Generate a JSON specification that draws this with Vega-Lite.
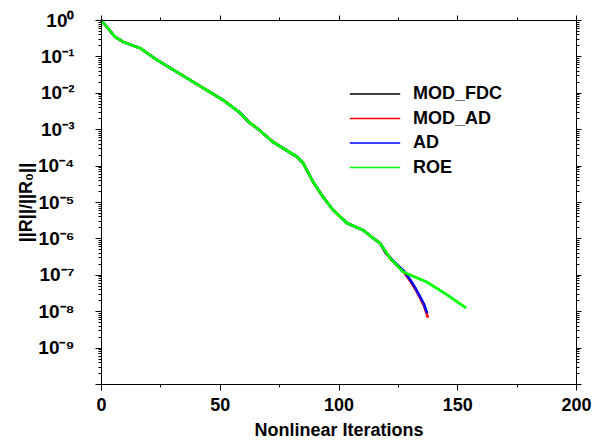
{
  "$schema": "https://vega.github.io/schema/vega-lite/v6.json",
  "autosize": {"type": "none"},
  "padding": {"left": 101, "top": 20, "right": 18, "bottom": 61},
  "width": 475,
  "height": 364,
  "background": "white",
  "config": {
    "font": "Liberation Sans",
    "view": {"stroke": null},
    "axis": {"domainColor": "black", "tickColor": "black", "grid": false, "domainWidth": 1, "tickWidth": 1,
      "labelFont": "Liberation Sans", "labelFontWeight": "bold", "labelFontSize": 18, "labelColor": "black",
      "titleFont": "Liberation Sans", "titleFontWeight": "bold", "titleFontSize": 18, "titleColor": "black"}
  },
  "data": {"values": [
    {"s": "MOD_FDC", "it": 0, "res": 1},
    {"s": "MOD_FDC", "it": 5.9, "res": 0.347},
    {"s": "MOD_FDC", "it": 9.3, "res": 0.251},
    {"s": "MOD_FDC", "it": 16.4, "res": 0.17},
    {"s": "MOD_FDC", "it": 23.6, "res": 0.0794},
    {"s": "MOD_FDC", "it": 37.5, "res": 0.0224},
    {"s": "MOD_FDC", "it": 51.4, "res": 0.00631},
    {"s": "MOD_FDC", "it": 58.5, "res": 0.00282},
    {"s": "MOD_FDC", "it": 62.7, "res": 0.00148},
    {"s": "MOD_FDC", "it": 65.7, "res": 0.00107},
    {"s": "MOD_FDC", "it": 72.4, "res": 0.000447},
    {"s": "MOD_FDC", "it": 76.6, "res": 0.000302},
    {"s": "MOD_FDC", "it": 82.5, "res": 0.000174},
    {"s": "MOD_FDC", "it": 85.1, "res": 0.000117},
    {"s": "MOD_FDC", "it": 89.3, "res": 3.55e-5},
    {"s": "MOD_FDC", "it": 93.5, "res": 1.38e-5},
    {"s": "MOD_FDC", "it": 97.7, "res": 6.03e-6},
    {"s": "MOD_FDC", "it": 103.6, "res": 2.63e-6},
    {"s": "MOD_FDC", "it": 110.3, "res": 1.7e-6},
    {"s": "MOD_FDC", "it": 114.5, "res": 1.02e-6},
    {"s": "MOD_FDC", "it": 117.5, "res": 7.41e-7},
    {"s": "MOD_FDC", "it": 120, "res": 3.98e-7},
    {"s": "MOD_FDC", "it": 122.5, "res": 2.57e-7},
    {"s": "MOD_FDC", "it": 124.6, "res": 1.86e-7},
    {"s": "MOD_FDC", "it": 127.5, "res": 1.26e-7},
    {"s": "MOD_FDC", "it": 130.1, "res": 7.24e-8},
    {"s": "MOD_FDC", "it": 132.2, "res": 4.37e-8},
    {"s": "MOD_FDC", "it": 134.3, "res": 2.45e-8},
    {"s": "MOD_FDC", "it": 136, "res": 1.48e-8},
    {"s": "MOD_FDC", "it": 137.3, "res": 8.9e-9},

    {"s": "MOD_AD", "it": 0, "res": 1},
    {"s": "MOD_AD", "it": 5.9, "res": 0.347},
    {"s": "MOD_AD", "it": 9.3, "res": 0.251},
    {"s": "MOD_AD", "it": 16.4, "res": 0.17},
    {"s": "MOD_AD", "it": 23.6, "res": 0.0794},
    {"s": "MOD_AD", "it": 37.5, "res": 0.0224},
    {"s": "MOD_AD", "it": 51.4, "res": 0.00631},
    {"s": "MOD_AD", "it": 58.5, "res": 0.00282},
    {"s": "MOD_AD", "it": 62.7, "res": 0.00148},
    {"s": "MOD_AD", "it": 65.7, "res": 0.00107},
    {"s": "MOD_AD", "it": 72.4, "res": 0.000447},
    {"s": "MOD_AD", "it": 76.6, "res": 0.000302},
    {"s": "MOD_AD", "it": 82.5, "res": 0.000174},
    {"s": "MOD_AD", "it": 85.1, "res": 0.000117},
    {"s": "MOD_AD", "it": 89.3, "res": 3.55e-5},
    {"s": "MOD_AD", "it": 93.5, "res": 1.38e-5},
    {"s": "MOD_AD", "it": 97.7, "res": 6.03e-6},
    {"s": "MOD_AD", "it": 103.6, "res": 2.63e-6},
    {"s": "MOD_AD", "it": 110.3, "res": 1.7e-6},
    {"s": "MOD_AD", "it": 114.5, "res": 1.02e-6},
    {"s": "MOD_AD", "it": 117.5, "res": 7.41e-7},
    {"s": "MOD_AD", "it": 120, "res": 3.9e-7},
    {"s": "MOD_AD", "it": 122.5, "res": 2.5e-7},
    {"s": "MOD_AD", "it": 124.6, "res": 1.8e-7},
    {"s": "MOD_AD", "it": 127.5, "res": 1.2e-7},
    {"s": "MOD_AD", "it": 130.1, "res": 6.9e-8},
    {"s": "MOD_AD", "it": 132.2, "res": 4.2e-8},
    {"s": "MOD_AD", "it": 134.3, "res": 2.35e-8},
    {"s": "MOD_AD", "it": 136, "res": 1.4e-8},
    {"s": "MOD_AD", "it": 137.7, "res": 6.6e-9},

    {"s": "AD", "it": 0, "res": 1},
    {"s": "AD", "it": 5.9, "res": 0.347},
    {"s": "AD", "it": 9.3, "res": 0.251},
    {"s": "AD", "it": 16.4, "res": 0.17},
    {"s": "AD", "it": 23.6, "res": 0.0794},
    {"s": "AD", "it": 37.5, "res": 0.0224},
    {"s": "AD", "it": 51.4, "res": 0.00631},
    {"s": "AD", "it": 58.5, "res": 0.00282},
    {"s": "AD", "it": 62.7, "res": 0.00148},
    {"s": "AD", "it": 65.7, "res": 0.00107},
    {"s": "AD", "it": 72.4, "res": 0.000447},
    {"s": "AD", "it": 76.6, "res": 0.000302},
    {"s": "AD", "it": 82.5, "res": 0.000174},
    {"s": "AD", "it": 85.1, "res": 0.000117},
    {"s": "AD", "it": 89.3, "res": 3.55e-5},
    {"s": "AD", "it": 93.5, "res": 1.38e-5},
    {"s": "AD", "it": 97.7, "res": 6.03e-6},
    {"s": "AD", "it": 103.6, "res": 2.63e-6},
    {"s": "AD", "it": 110.3, "res": 1.7e-6},
    {"s": "AD", "it": 114.5, "res": 1.02e-6},
    {"s": "AD", "it": 117.5, "res": 7.41e-7},
    {"s": "AD", "it": 120, "res": 4.0e-7},
    {"s": "AD", "it": 122.5, "res": 2.6e-7},
    {"s": "AD", "it": 124.6, "res": 1.9e-7},
    {"s": "AD", "it": 127.5, "res": 1.28e-7},
    {"s": "AD", "it": 130.1, "res": 7.4e-8},
    {"s": "AD", "it": 132.2, "res": 4.5e-8},
    {"s": "AD", "it": 134.3, "res": 2.55e-8},
    {"s": "AD", "it": 136, "res": 1.55e-8},
    {"s": "AD", "it": 137.3, "res": 8.9e-9},

    {"s": "ROE", "it": 0, "res": 1},
    {"s": "ROE", "it": 5.9, "res": 0.347},
    {"s": "ROE", "it": 9.3, "res": 0.251},
    {"s": "ROE", "it": 16.4, "res": 0.17},
    {"s": "ROE", "it": 23.6, "res": 0.0794},
    {"s": "ROE", "it": 37.5, "res": 0.0224},
    {"s": "ROE", "it": 51.4, "res": 0.00631},
    {"s": "ROE", "it": 58.5, "res": 0.00282},
    {"s": "ROE", "it": 62.7, "res": 0.00148},
    {"s": "ROE", "it": 65.7, "res": 0.00107},
    {"s": "ROE", "it": 72.4, "res": 0.000447},
    {"s": "ROE", "it": 76.6, "res": 0.000302},
    {"s": "ROE", "it": 82.5, "res": 0.000174},
    {"s": "ROE", "it": 85.1, "res": 0.000117},
    {"s": "ROE", "it": 89.3, "res": 3.55e-5},
    {"s": "ROE", "it": 93.5, "res": 1.38e-5},
    {"s": "ROE", "it": 97.7, "res": 6.03e-6},
    {"s": "ROE", "it": 103.6, "res": 2.63e-6},
    {"s": "ROE", "it": 110.3, "res": 1.7e-6},
    {"s": "ROE", "it": 114.5, "res": 1.02e-6},
    {"s": "ROE", "it": 117.5, "res": 7.41e-7},
    {"s": "ROE", "it": 121.7, "res": 2.88e-7},
    {"s": "ROE", "it": 127.2, "res": 1.2e-7},
    {"s": "ROE", "it": 137.3, "res": 6.31e-8},
    {"s": "ROE", "it": 145.7, "res": 2.82e-8},
    {"s": "ROE", "it": 153.7, "res": 1.23e-8}
  ]},
  "resolve": {"axis": {"x": "independent", "y": "independent"}},
  "layer": [
    {
      "mark": {"type": "line", "strokeWidth": 2.5},
      "encoding": {
        "x": {"field": "it", "type": "quantitative", "scale": {"domain": [0, 200], "nice": false},
          "axis": {"orient": "bottom", "title": "Nonlinear Iterations",
            "values": [0, 25, 50, 75, 100, 125, 150, 175, 200],
            "labelExpr": "datum.value % 50 == 0 ? datum.label : ''",
            "tickSize": {"condition": {"test": "datum.value % 50 == 0", "value": 6}, "value": 3}, "zindex": 1,
            "labelPadding": 6, "labelFlush": false, "labelOverlap": false,
            "titleBaseline": "alphabetic", "titleY": 51}},
        "y": {"field": "res", "type": "quantitative", "scale": {"type": "log", "domain": [1e-10, 1], "nice": false},
          "axis": {"orient": "left", "title": "||R||/||R₀||",
            "values": [1,
              0.9,0.8,0.7,0.6,0.5,0.4,0.3,0.2,0.1,
              0.09,0.08,0.07,0.06,0.05,0.04,0.03,0.02,0.01,
              0.009,0.008,0.007,0.006,0.005,0.004,0.003,0.002,0.001,
              9e-4,8e-4,7e-4,6e-4,5e-4,4e-4,3e-4,2e-4,1e-4,
              9e-5,8e-5,7e-5,6e-5,5e-5,4e-5,3e-5,2e-5,1e-5,
              9e-6,8e-6,7e-6,6e-6,5e-6,4e-6,3e-6,2e-6,1e-6,
              9e-7,8e-7,7e-7,6e-7,5e-7,4e-7,3e-7,2e-7,1e-7,
              9e-8,8e-8,7e-8,6e-8,5e-8,4e-8,3e-8,2e-8,1e-8,
              9e-9,8e-9,7e-9,6e-9,5e-9,4e-9,3e-9,2e-9,1e-9,
              9e-10,8e-10,7e-10,6e-10,5e-10,4e-10,3e-10,2e-10,1e-10],
            "labelExpr": "abs(log(datum.value)/LN10 - round(log(datum.value)/LN10)) < 0.001 ? ['10⁰','10⁻¹','10⁻²','10⁻³','10⁻⁴','10⁻⁵','10⁻⁶','10⁻⁷','10⁻⁸','10⁻⁹',''][-round(log(datum.value)/LN10)] : ''",
            "tickSize": {"condition": {"test": "abs(log(datum.value)/LN10 - round(log(datum.value)/LN10)) < 0.001", "value": 6}, "value": 3},
            "zindex": 1, "labelFontSize": 19,
            "labelPadding": 21, "labelFlush": false, "labelOverlap": false, "labelBaseline": "middle",
            "titleBaseline": "alphabetic", "titleX": -70, "titleAngle": 270}},
        "color": {"field": "s", "type": "nominal", "sort": ["MOD_FDC", "MOD_AD", "AD", "ROE"],
          "scale": {"domain": ["MOD_FDC", "MOD_AD", "AD", "ROE"], "range": ["#000000", "#ff0000", "#0000ff", "#00ff00"]},
          "legend": {"title": null, "orient": "none", "legendX": 259, "legendY": 59,
            "symbolType": "M-1.8,0H1.8", "symbolSize": 784, "symbolStrokeWidth": 1.5,
            "labelFont": "Liberation Sans", "labelFontWeight": "bold", "labelFontSize": 18, "labelColor": "black",
            "labelOffset": 23, "rowPadding": 0.5, "padding": 0, "labelLimit": 300}}
      }
    },
    {
      "transform": [{"filter": "datum.s == 'ROE'"}],
      "mark": {"type": "line", "strokeWidth": 2.5},
      "encoding": {
        "x": {"field": "it", "type": "quantitative",
          "axis": {"orient": "top", "title": null, "labels": false, "zindex": 1,
            "values": [0, 25, 50, 75, 100, 125, 150, 175, 200],
            "tickSize": {"condition": {"test": "datum.value % 50 == 0", "value": 5}, "value": 3}}},
        "y": {"field": "res", "type": "quantitative",
          "axis": {"orient": "right", "title": null, "labels": false, "zindex": 1,
            "values": [1,
              0.9,0.8,0.7,0.6,0.5,0.4,0.3,0.2,0.1,
              0.09,0.08,0.07,0.06,0.05,0.04,0.03,0.02,0.01,
              0.009,0.008,0.007,0.006,0.005,0.004,0.003,0.002,0.001,
              9e-4,8e-4,7e-4,6e-4,5e-4,4e-4,3e-4,2e-4,1e-4,
              9e-5,8e-5,7e-5,6e-5,5e-5,4e-5,3e-5,2e-5,1e-5,
              9e-6,8e-6,7e-6,6e-6,5e-6,4e-6,3e-6,2e-6,1e-6,
              9e-7,8e-7,7e-7,6e-7,5e-7,4e-7,3e-7,2e-7,1e-7,
              9e-8,8e-8,7e-8,6e-8,5e-8,4e-8,3e-8,2e-8,1e-8,
              9e-9,8e-9,7e-9,6e-9,5e-9,4e-9,3e-9,2e-9,1e-9,
              9e-10,8e-10,7e-10,6e-10,5e-10,4e-10,3e-10,2e-10,1e-10],
            "tickSize": {"condition": {"test": "abs(log(datum.value)/LN10 - round(log(datum.value)/LN10)) < 0.001", "value": 5}, "value": 3}}},
        "color": {"field": "s", "type": "nominal"}
      }
    }
  ]
}
